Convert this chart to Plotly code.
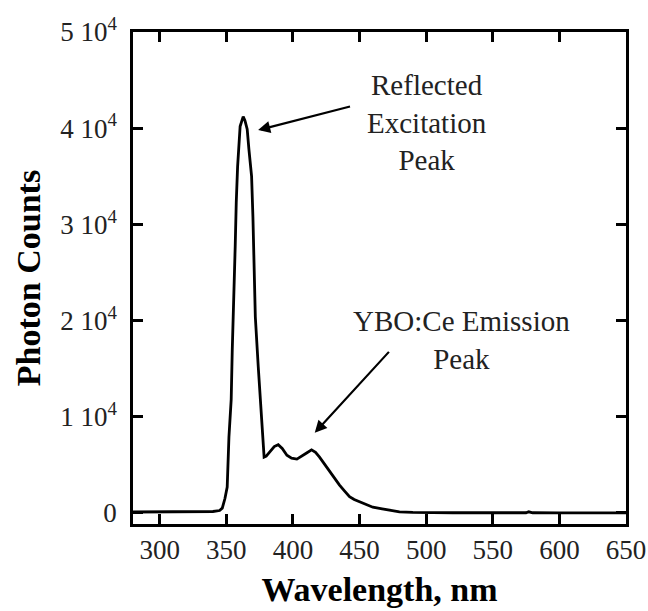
import plotly.graph_objects as go

# Data
wavelength = [280, 300, 320, 340, 345, 347, 349, 350.7, 352, 353.7, 354.5, 355.3, 356.7,
              357.5, 358.5, 360.4, 362.7, 364, 365.7, 367, 369, 370, 371, 371.8, 374,
              375.4, 376.9, 378.4, 380, 383, 386, 389, 392, 395.5, 399, 403, 407, 410,
              414, 417, 420, 424, 427.6, 431, 435, 439, 442.5, 446, 450, 455, 460, 467,
              475, 480, 490, 500, 520, 550, 575, 577, 580, 600, 650]
counts = [100, 100, 100, 150, 250, 500, 1500, 2700, 7900, 11800, 17000, 22200, 27700,
          32300, 36000, 40200, 41200, 40800, 39900, 37800, 35000, 30800, 25600, 20400, 15200,
          11800, 8300, 5800, 5900, 6350, 6900, 7100, 6700, 6000, 5700, 5600, 5900, 6200,
          6560, 6300, 5800, 5000, 4300, 3600, 2900, 2250, 1700, 1400, 1150, 850, 600, 420,
          250, 120, 60, 30, 20, 20, 20, 120, 20, 10, 10]

x_ticks = [300, 350, 400, 450, 500, 550, 600, 650]
y_ticks = [0, 10000, 20000, 30000, 40000, 50000]
y_ticktext = ["0", "1 10<sup>4</sup>", "2 10<sup>4</sup>", "3 10<sup>4</sup>",
              "4 10<sup>4</sup>", "5 10<sup>4</sup>"]

label_excitation = "Reflected<br>Excitation<br>Peak"
label_emission = "YBO:Ce Emission<br>Peak"

SERIF = "Liberation Serif"

fig = go.Figure()
fig.add_trace(go.Scatter(x=wavelength, y=counts, mode="lines",
                         line=dict(color="black", width=2.8), hoverinfo="skip"))

axis_common = dict(showgrid=False, zeroline=False, showline=True, linecolor="black",
                   linewidth=2.5, mirror="ticks", ticks="inside", ticklen=10,
                   tickwidth=2.5, tickcolor="black", automargin=False,
                   tickfont=dict(family=SERIF, size=27, color="#222"))

fig.update_xaxes(range=[280, 650], tickvals=x_ticks,
                 title=dict(text="<b>Wavelength, nm</b>", standoff=14,
                            font=dict(family=SERIF, size=34, color="black")),
                 **axis_common)
fig.update_yaxes(range=[-1150, 50000], tickvals=y_ticks, ticktext=y_ticktext,
                 ticklabelstandoff=8,
                 title=dict(text="<b>Photon Counts</b>", standoff=10,
                            font=dict(family=SERIF, size=34, color="black")),
                 **axis_common)

# Text labels
fig.add_annotation(x=500.6, y=40600, xref="x", yref="y", text=label_excitation,
                   showarrow=False, font=dict(family=SERIF, size=29, color="#222"),
                   align="center", xanchor="center", yanchor="middle")
fig.add_annotation(x=526.8, y=18000, xref="x", yref="y", text=label_emission,
                   showarrow=False, font=dict(family=SERIF, size=29, color="#222"),
                   align="center", xanchor="center", yanchor="middle")

# Arrows
fig.add_annotation(x=373.9, y=39800, ax=444, ay=42300, xref="x", yref="y",
                   axref="x", ayref="y", text="", showarrow=True, arrowhead=2,
                   arrowsize=1.1, arrowwidth=2.2, arrowcolor="black")
fig.add_annotation(x=416.4, y=8330, ax=473.1, ay=16900, xref="x", yref="y",
                   axref="x", ayref="y", text="", showarrow=True, arrowhead=2,
                   arrowsize=1.1, arrowwidth=2.2, arrowcolor="black")

fig.update_layout(width=648, height=611, margin=dict(l=133, r=22, t=32, b=87),
                  paper_bgcolor="white", plot_bgcolor="white", showlegend=False)

fig.write_html("out.html")
